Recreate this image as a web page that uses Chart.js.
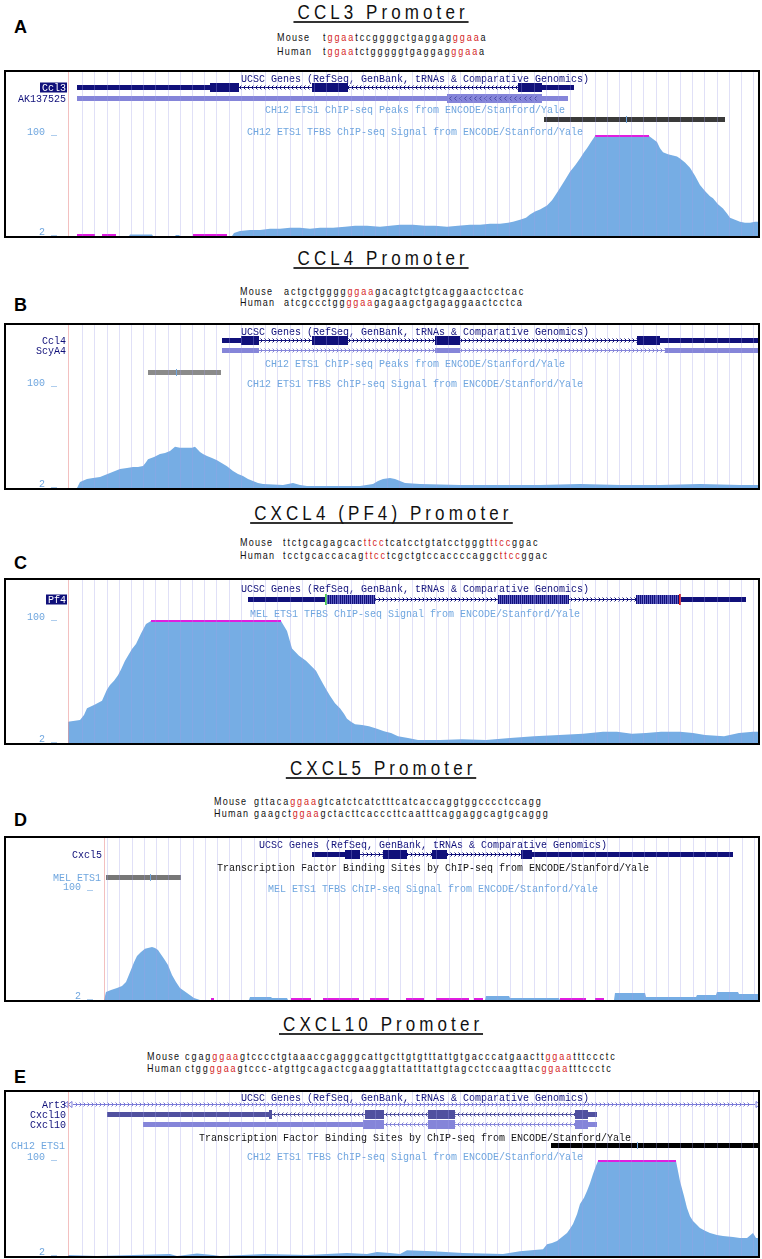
<!DOCTYPE html>
<html lang="en">
<head>
<meta charset="UTF-8">
<title>ETS1 ChIP-seq signal at chemokine promoters</title>
<script src="https://cdn.jsdelivr.net/npm/chart.js@4"></script>
<style>
  body { margin: 0; background: #fff; }
  #page { position: relative; width: 762px; height: 1259px; overflow: hidden; }
  .title { position: absolute; left: 0; width: 762px; text-align: center; }
  .title span {
    display: inline-block; transform: scaleX(0.85); transform-origin: center;
    font-family: "Liberation Sans", Arial, sans-serif;
    font-size: 20px; line-height: 17px; letter-spacing: 4.8px; padding-left: 4.8px;
    border-bottom: 2px solid #333; color: #111;
  }
  .letter { position: absolute; left: 14px; font: bold 18px/18px "Liberation Sans", Arial, sans-serif; color: #000; }
  .seq {
    position: absolute; white-space: pre; color: #111;
    transform: scaleX(0.82); transform-origin: left;
    font-family: "Liberation Sans", Arial, sans-serif;
    font-size: 11px; line-height: 12px; letter-spacing: 2.35px;
  }
  .seq.name { letter-spacing: 1.5px; }
  .seq b { font-weight: normal; color: #d41f1f; }
  .box { position: absolute; left: 4px; width: 756px; border: 2px solid #000; box-sizing: border-box; }
  .box canvas { display: block; }
</style>
</head>
<body>
<div id="page">

  <div class="title" style="top:4px"><span>CCL3 Promoter</span></div>
  <div class="letter" style="top:18px">A</div>
  <div class="seq name" style="left:277px;top:31px">Mouse</div>
  <div class="seq" style="left:323px;top:31px">t<b>ggaa</b>tccggggctgaggag<b>ggaa</b>a</div>
  <div class="seq name" style="left:277px;top:45px">Human</div>
  <div class="seq" style="left:323px;top:45px">t<b>ggaa</b>tctgggggtgaggag<b>ggaa</b>a</div>
  <div class="box" style="top:70px;height:168px"><canvas id="chartA" width="752" height="164"></canvas></div>

  <div class="title" style="top:250px"><span>CCL4 Promoter</span></div>
  <div class="letter" style="top:296px">B</div>
  <div class="seq name" style="left:240px;top:285px">Mouse</div>
  <div class="seq" style="left:284px;top:285px">actgctgggg<b>ggaa</b>gacagtctgtcaggaactcctcac</div>
  <div class="seq name" style="left:240px;top:296px">Human</div>
  <div class="seq" style="left:284px;top:296px">atcgccctgg<b>ggaa</b>gagaagctgagaggaactcctca</div>
  <div class="box" style="top:323px;height:167px"><canvas id="chartB" width="752" height="163"></canvas></div>

  <div class="title" style="top:505px"><span>CXCL4 (PF4) Promoter</span></div>
  <div class="letter" style="top:554px">C</div>
  <div class="seq name" style="left:240px;top:536px">Mouse</div>
  <div class="seq" style="left:283px;top:536px">ttctgcagagcac<b>ttcc</b>tcatcctgtatcctgggt<b>ttcc</b>ggac</div>
  <div class="seq name" style="left:240px;top:549px">Human</div>
  <div class="seq" style="left:283px;top:549px">tcctgcaccacag<b>ttcc</b>tcgctgtccaccccaggc<b>ttcc</b>ggac</div>
  <div class="box" style="top:578px;height:167px"><canvas id="chartC" width="752" height="163"></canvas></div>

  <div class="title" style="top:760px"><span>CXCL5 Promoter</span></div>
  <div class="letter" style="top:811px">D</div>
  <div class="seq name" style="left:214px;top:795px">Mouse</div>
  <div class="seq" style="left:254px;top:795px">gttaca<b>ggaa</b>gtcatctcatctttcatcaccaggtggcccctccagg</div>
  <div class="seq name" style="left:214px;top:807px">Human</div>
  <div class="seq" style="left:254px;top:807px">gaagct<b>ggaa</b>gctacttcacccttcaatttcaggaggcagtgcaggg</div>
  <div class="box" style="top:836px;height:166px"><canvas id="chartD" width="752" height="162"></canvas></div>

  <div class="title" style="top:1016px"><span>CXCL10 Promoter</span></div>
  <div class="letter" style="top:1068px">E</div>
  <div class="seq name" style="left:147px;top:1050px">Mouse</div>
  <div class="seq" style="left:185px;top:1050px">cgag<b>ggaa</b>gtcccctgtaaaccgagggcattgcttgtgtttattgtgacccatgaactt<b>ggaa</b>tttccctc</div>
  <div class="seq name" style="left:147px;top:1062px">Human</div>
  <div class="seq" style="left:185px;top:1062px">ctgg<b>ggaa</b>gtccc-atgttgcagactcgaaggtattatttattgtagcctccaagttac<b>ggaa</b>tttccctc</div>
  <div class="box" style="top:1090px;height:168px"><canvas id="chartE" width="752" height="164"></canvas></div>

</div>

<script>
// ETS1 ChIP-seq signal, view limits 2..100, position = offset across the browser window
const ccl3Pos = [0,9,61,62,84,85,107,108,111,112,164,166,172,182,192,202,212,222,232,242,252,265,277,287,299,312,322,332,345,357,367,379,390,402,412,422,432,440,445,452,458,462,467,472,479,484,488,492,497,502,507,512,516,519,523,527,581,585,589,592,595,600,605,609,612,617,622,627,632,637,642,645,650,655,659,662,667,672,677,682,687,690];
const ccl3Sig = [2,2,2,3.5,3.5,2,2,3,3,2,2,5,7,8,8,9,9,10,10,9,10,10,11,12,12,11,12,13,13,12,12,11,12,13,13,14,14,15,16,18,20,23,26,28,32,37,43,49,57,65,71,78,84,88,94,100,100,97,94,88,84,82,81,80,78,74,69,61,52,46,41,39,33,29,24,20,18,16,15,15,16,16];

const ccl4Pos = [0,9,12,19,25,32,37,42,47,52,59,65,70,75,78,80,86,92,97,102,107,112,119,124,127,132,135,139,144,149,154,159,165,170,175,180,185,190,195,205,215,225,232,239,265,292,305,310,315,322,327,332,337,352,392,432,472,512,552,592,632,672,690];
const ccl4Sig = [2,2,7.8,10.7,11.7,12.7,14.6,16.6,18.5,20.4,21.4,22.4,22.4,23.3,27,30,32,35,36,38,42,41,41,41,42,37,35,33,31,29,26,23,18.5,15.6,13.6,10.7,8.8,6.9,5.9,5.4,4.9,6.9,4.9,4,4,4,5.9,8.8,10.7,11.7,10.7,8.8,6.9,5.9,4.9,4.9,4.9,5.9,4.9,4.9,5.9,4.9,4.9];

const pf4Pos = [0,12,16,19,27,34,39,42,46,50,53,57,61,64,68,73,78,83,213,219,224,231,238,243,248,252,255,259,262,267,272,276,279,283,287,294,301,309,316,323,330,340,350,372,394,418,442,466,491,515,535,549,564,578,593,612,625,637,656,671,685,690];
const pf4Sig = [19,20.5,24.5,30,33,36,45,48.5,52,56.5,61,68,73.5,77.5,81.5,90,97.5,100,100,92,78,72,68,64,60,54,49.5,44,40,34,30,25.5,21.5,19,17,16.5,15.5,13.5,11.5,10,7.5,6,4.5,4.5,5,4.5,6,7.5,8.5,9.5,11,11,9.5,10,11,11,10,8.5,7.5,10,11,11];

const cxcl5Pos = [0,2,7,13,18,22,26,30,33,37,41,44,48,51,54,56,60,64,68,72,76,83,90,96,145,146,167,168,183,184,381,382,405,406,455,456,510,511,541,542,592,593,612,613,634,635,654];
const cxcl5Sig = [2,9.2,11,12.8,14.6,18.2,27,36,41.6,45.2,48,48.8,49.7,48.8,47,44.3,39,33.5,24.5,18.2,12.8,8.3,3.8,2,2,4.7,4.7,3.8,3.8,2,2,5.6,5.6,3.8,3.8,2,2,8.3,8.3,4.7,4.7,6.5,6.5,9.2,9.2,7.4,7.4];

const cxcl10Pos = [0,29,102,109,129,145,152,197,239,279,299,309,322,332,339,365,395,435,452,475,479,484,489,494,499,502,505,509,512,516,519,522,525,528,530,608,612,616,619,622,625,629,632,637,642,649,655,665,672,679,685,688,690];
const cxcl10Sig = [3,2,4,2,4.6,3,2,4,3,5,4,6,5,4,8,7,5,4,7,9,14,15.5,17.5,21.5,25.7,30,35,45,55.6,62,69,77,86.5,95,100,100,79,64,51.5,43,38,34,31,28,25.7,23.6,22.6,21.6,20.5,20.5,25.7,20.5,20.5];

const viewTicks = [2, 100];

// stretches clipped at the view limit, and stretches without data
const ccl3Clip = [[527,581]];
const pf4Clip = [[83,213]];
const cxcl10Clip = [[530,608]];
const ccl3Gaps = [[9,27],[34,48],[125,159]];
const cxcl5Gaps = [[107,110],[187,207],[219,255],[266,285],[302,320],[332,365],[370,379],[456,482],[491,500]];

// gene models: [start, end] of UTR (thin) and coding (thick) blocks
const ccl3Utr = [[9,142],[474,506]];
const ccl3Cds = [[142,171],[244,280],[450,474]];
const ak137525Utr = [[9,500]];
const ak137525Cds = [[379,474]];
const ccl4Utr = [[154,173],[592,690]];
const ccl4Cds = [[173,191],[244,280],[367,392],[569,592]];
const scya4Utr = [[154,191],[367,392],[597,690]];
const pf4Utr = [[180,257],[613,678]];
const pf4Cds = [[258,307],[430,501],[568,611]];
const cxcl5Utr = [[208,241],[428,629]];
const cxcl5Cds = [[241,256],[279,303],[328,343],[417,428]];
const art3Span = [5,687];
const cxcl10aUtr = [[39,201],[520,529]];
const cxcl10aCds = [[201,204],[297,316],[360,387],[507,520]];
const cxcl10bUtr = [[75,295],[520,529]];
const cxcl10bCds = [[295,316],[360,387],[507,520]];

// peak calls: [start, end], summit
const ccl3Peak = [476,657], ccl3Summit = 558;
const ccl4Peak = [80,153], ccl4Summit = 108;
const cxcl5Peak = [2,77], cxcl5Summit = 46;
const cxcl10Peak = [483,692], cxcl10Summit = 569;

const NAVY = '#10107a', LILAC = '#8585d9', SKY = '#6fa6df', SIGNAL = '#76ade4', MAGENTA = '#e01ee0';
const GUIDE = 'rgba(160,160,230,0.32)', EDGE = 'rgba(235,150,150,0.6)', STEP = 12.2;
const FONT = '10px "Liberation Mono", "DejaVu Sans Mono", monospace';

function span(parts) {
  const all = parts.flat();
  return [Math.min(...all), Math.max(...all)];
}

function bar(ctx, xa, xb, yc, h) {
  const a = Math.round(xa), b = Math.round(xb);
  ctx.fillRect(a, Math.round(yc - h / 2), Math.max(1, b - a), h);
}

function chevrons(ctx, xa, xb, yc, dir, gap) {
  ctx.beginPath();
  for (let cx = Math.round(xa) + 0.5; cx < xb; cx += gap || 4) {
    const d = dir === '>' ? 1 : -1;
    ctx.moveTo(cx - d, yc - 2);
    ctx.lineTo(cx + d, yc);
    ctx.lineTo(cx - d, yc + 2);
  }
  ctx.stroke();
}

function label(ctx, text, x, y, color, align, bg) {
  ctx.font = FONT;
  ctx.textAlign = align;
  ctx.textBaseline = 'middle';
  if (bg) {
    const w = ctx.measureText(text).width;
    ctx.fillStyle = bg;
    ctx.fillRect(Math.round(x - w - 2), y - 5, Math.round(w + 3), 10);
  }
  ctx.fillStyle = color;
  ctx.fillText(text, x, y + 0.5);
}

function drawGene(ctx, X, left, top, g) {
  const yc = top + g.row + 0.5;
  const ext = g.span || span([...(g.utr || []), ...(g.cds || [])]);
  ctx.fillStyle = g.color;
  ctx.strokeStyle = g.color;
  ctx.lineWidth = 1;
  ctx.fillRect(Math.round(X(ext[0])), Math.round(yc - 0.5), Math.round(X(ext[1]) - X(ext[0])), 1);
  chevrons(ctx, X(ext[0]) + 3, X(ext[1]) - 3, yc, g.strand);
  (g.utr || []).forEach(([a, b]) => bar(ctx, X(a), X(b), yc, 5));
  (g.cds || []).forEach(([a, b]) => bar(ctx, X(a), X(b), yc, 9));
  if (g.stripes) {
    ctx.fillStyle = g.stripes;
    g.cds.forEach(([a, b]) => {
      for (let x = Math.round(X(a)) + 1; x < X(b) - 1; x += 2) ctx.fillRect(x, Math.round(yc - 4.5), 1, 9);
    });
  }
  if (g.inner) {
    ctx.strokeStyle = g.inner;
    g.cds.forEach(([a, b]) => chevrons(ctx, X(a) + 3, X(b) - 2, yc, g.strand, 5));
  }
  if (g.ends) {
    ctx.strokeStyle = g.color;
    [[X(ext[0]) - 1, -1], [X(ext[1]) + 1, 1]].forEach(([x, d]) => {
      for (let k = 0; k < 2; k++) {
        const tip = x + d * (k * 4 + 4);
        ctx.beginPath();
        ctx.moveTo(tip, yc);
        ctx.lineTo(tip - d * 4, yc - 3);
        ctx.lineTo(tip - d * 4, yc + 3);
        ctx.closePath();
        ctx.stroke();
      }
    });
  }
  (g.marks || []).forEach(([p, c]) => { ctx.fillStyle = c; ctx.fillRect(Math.round(X(p)), Math.round(yc - 5.5), 2, 11); });
  if (g.label) label(ctx, g.label, left - 2, yc, g.labelColor || NAVY, 'right', g.labelBg);
}

function trackPlugin(p) {
  return {
    id: 'tracks',
    afterDatasetsDraw(chart) {
      const {ctx, chartArea} = chart;
      const xs = chart.scales.x, ys = chart.scales.y;
      const X = v => xs.getPixelForValue(v);
      const mid = (chartArea.left + chartArea.right) / 2 + 2;
      ctx.save();
      ctx.fillStyle = MAGENTA;
      (p.clip || []).forEach(([a, b]) => ctx.fillRect(Math.round(X(a)), Math.round(ys.getPixelForValue(100)) - 1, Math.round(X(b) - X(a)), 2));
      (p.gaps || []).forEach(([a, b]) => ctx.fillRect(Math.round(X(a)), Math.round(ys.getPixelForValue(2)) - 2, Math.round(X(b) - X(a)), 2));
      (p.texts || []).forEach(t => label(ctx, t.text, t.align === 'right' ? chartArea.left - 3 : mid, t.row + 0.5, t.color, t.align || 'center'));
      (p.peaks || []).forEach(k => {
        ctx.fillStyle = k.color;
        bar(ctx, X(k.range[0]), Math.min(X(k.range[1]), chartArea.right), k.row + 0.5, 5);
        ctx.fillStyle = SKY;
        ctx.fillRect(Math.round(X(k.summit)), k.row - 3, 1, 7);
      });
      (p.genes || []).forEach(g => drawGene(ctx, X, chartArea.left, 0, g));
      ctx.restore();
    }
  };
}

function guides(max, start) {
  const t = [{value: 0}];
  for (let v = start; v < max; v += STEP) t.push({value: v});
  return t;
}

function makePanel(id, p) {
  const canvas = document.getElementById(id);
  const h = canvas.height;
  const ymax = 2 + 98 * h / (h - p.level100);
  new Chart(canvas, {
    type: 'line',
    data: {
      datasets: [{
        data: p.pos.map((x, i) => ({x: x, y: p.sig[i]})),
        fill: 'start',
        backgroundColor: SIGNAL,
        borderWidth: 0,
        pointRadius: 0,
        tension: 0
      }]
    },
    options: {
      responsive: false,
      animation: false,
      devicePixelRatio: 1,
      layout: {padding: 0, autoPadding: false},
      plugins: {legend: {display: false}, tooltip: {enabled: false}},
      scales: {
        x: {
          type: 'linear', min: 0, max: p.width,
          ticks: {display: false},
          grid: {z: 1, drawTicks: false, lineWidth: 1, color: c => (c.tick && c.tick.value === 0 ? EDGE : GUIDE)},
          border: {display: false},
          afterBuildTicks: s => { s.ticks = guides(p.width, p.guideStart); }
        },
        y: {
          type: 'linear', min: 2, max: ymax,
          grid: {display: false},
          border: {display: false},
          ticks: {
            padding: 3, labelOffset: -4, color: SKY,
            font: {family: '"Liberation Mono", "DejaVu Sans Mono", monospace', size: 10},
            callback: v => v + ' _'
          },
          afterBuildTicks: s => { s.ticks = viewTicks.map(v => ({value: v})); },
          afterFit: s => { s.width = p.axisW; s.paddingTop = 0; s.paddingBottom = 0; }
        }
      }
    },
    plugins: [trackPlugin(p)]
  });
}

const UCSC = 'UCSC Genes (RefSeq, GenBank, tRNAs & Comparative Genomics)';
const TFBS = 'Transcription Factor Binding Sites by ChIP-seq from ENCODE/Stanford/Yale';

makePanel('chartA', {
  width: 690, axisW: 62, level100: 64, guideStart: 14.7,
  pos: ccl3Pos, sig: ccl3Sig, clip: ccl3Clip, gaps: ccl3Gaps,
  texts: [
    {text: UCSC, row: 6, color: NAVY},
    {text: 'CH12 ETS1 ChIP-seq Peaks from ENCODE/Stanford/Yale', row: 37, color: SKY},
    {text: 'CH12 ETS1 TFBS ChIP-seq Signal from ENCODE/Stanford/Yale', row: 59, color: SKY}
  ],
  peaks: [{range: ccl3Peak, summit: ccl3Summit, row: 47, color: '#3a3a3a'}],
  genes: [
    {label: 'Ccl3', labelColor: '#fff', labelBg: NAVY, row: 15, color: NAVY, strand: '<', utr: ccl3Utr, cds: ccl3Cds},
    {label: 'AK137525', row: 26, color: LILAC, strand: '<', utr: ak137525Utr, cds: ak137525Cds, inner: '#4a4aa8'}
  ]
});

makePanel('chartB', {
  width: 690, axisW: 62, level100: 62, guideStart: 14.7,
  pos: ccl4Pos, sig: ccl4Sig,
  texts: [
    {text: UCSC, row: 6, color: NAVY},
    {text: 'CH12 ETS1 ChIP-seq Peaks from ENCODE/Stanford/Yale', row: 38, color: SKY},
    {text: 'CH12 ETS1 TFBS ChIP-seq Signal from ENCODE/Stanford/Yale', row: 58, color: SKY}
  ],
  peaks: [{range: ccl4Peak, summit: ccl4Summit, row: 47, color: '#8a8a8a'}],
  genes: [
    {label: 'Ccl4', row: 15, color: NAVY, strand: '>', utr: ccl4Utr, cds: ccl4Cds},
    {label: 'ScyA4', row: 25, color: LILAC, strand: '>', utr: scya4Utr}
  ]
});

makePanel('chartC', {
  width: 690, axisW: 62, level100: 41, guideStart: 14.7,
  pos: pf4Pos, sig: pf4Sig, clip: pf4Clip,
  texts: [
    {text: UCSC, row: 8, color: NAVY},
    {text: 'MEL ETS1 TFBS ChIP-seq Signal from ENCODE/Stanford/Yale', row: 33, color: SKY}
  ],
  genes: [
    {label: 'Pf4', labelColor: '#fff', labelBg: NAVY, row: 19, color: NAVY, strand: '>', utr: pf4Utr, cds: pf4Cds,
     stripes: '#5c5cc0', marks: [[257, '#4ccf4c'], [611, '#e02020']]}
  ]
});

makePanel('chartD', {
  width: 654, axisW: 98, level100: 53, guideStart: 3.6,
  pos: cxcl5Pos, sig: cxcl5Sig, gaps: cxcl5Gaps,
  texts: [
    {text: UCSC, row: 6, color: NAVY},
    {text: TFBS, row: 29, color: '#111'},
    {text: 'MEL ETS1', row: 39, color: SKY, align: 'right'},
    {text: 'MEL ETS1 TFBS ChIP-seq Signal from ENCODE/Stanford/Yale', row: 50, color: SKY}
  ],
  peaks: [{range: cxcl5Peak, summit: cxcl5Summit, row: 39, color: '#777'}],
  genes: [
    {label: 'Cxcl5', row: 16, color: NAVY, strand: '>', utr: cxcl5Utr, cds: cxcl5Cds}
  ]
});

makePanel('chartE', {
  width: 690, axisW: 62, level100: 69, guideStart: 14.7,
  pos: cxcl10Pos, sig: cxcl10Sig, clip: cxcl10Clip,
  texts: [
    {text: UCSC, row: 5, color: NAVY},
    {text: TFBS, row: 45, color: '#111'},
    {text: 'CH12 ETS1', row: 53, color: SKY, align: 'right'},
    {text: 'CH12 ETS1 TFBS ChIP-seq Signal from ENCODE/Stanford/Yale', row: 64, color: SKY}
  ],
  peaks: [{range: cxcl10Peak, summit: cxcl10Summit, row: 53, color: '#000'}],
  genes: [
    {label: 'Art3', row: 12, color: '#7a7ad8', strand: '>', span: art3Span, ends: true},
    {label: 'Cxcl10', row: 22, color: '#50509f', strand: '<', utr: cxcl10aUtr, cds: cxcl10aCds},
    {label: 'Cxcl10', row: 32, color: LILAC, strand: '<', utr: cxcl10bUtr, cds: cxcl10bCds}
  ]
});
</script>
</body>
</html>
